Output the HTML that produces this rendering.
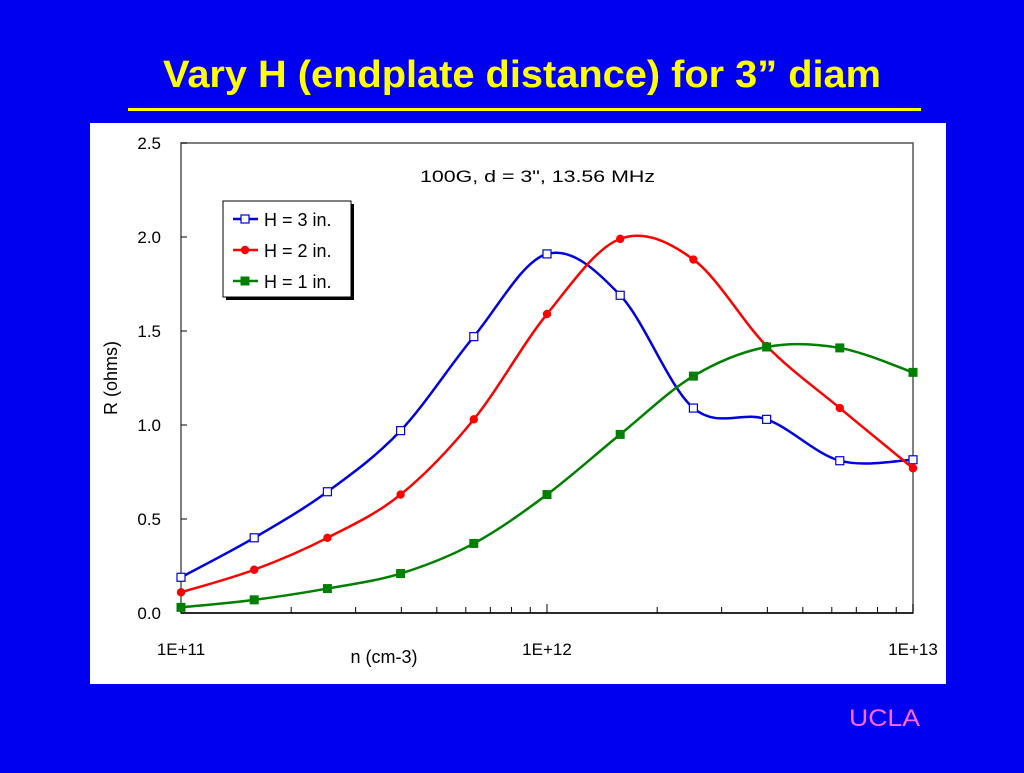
<!DOCTYPE html>
<html><head><meta charset="utf-8"><style>
body{margin:0;width:1024px;height:768px;background:#0000f0;overflow:hidden;font-family:"Liberation Sans",sans-serif}
</style></head><body>
<svg width="1024" height="768">
<rect width="1024" height="768" fill="#0000f0"/>
<text x="163" y="87" textLength="718" lengthAdjust="spacingAndGlyphs" font-size="38" font-weight="bold" fill="#ffff00" style="font-family:'Liberation Sans',sans-serif">Vary H (endplate distance) for 3” diam</text>
<rect x="128" y="108" width="793" height="3" fill="#ffff00"/>
<text x="849" y="726" textLength="71" lengthAdjust="spacingAndGlyphs" font-size="24" fill="#ff66ff" style="font-family:'Liberation Sans',sans-serif">UCLA</text>
<rect x="90" y="123" width="856" height="561" fill="#fff"/>
<g id="chart" font-family="Liberation Sans, sans-serif"></g>
</svg>
<script>
const xExp=[11,11.2,11.4,11.6,11.8,12,12.2,12.4,12.6,12.8,13];
const h3=[0.19,0.40,0.645,0.97,1.47,1.91,1.69,1.09,1.03,0.81,0.815];
const h2=[0.11,0.23,0.40,0.63,1.03,1.59,1.99,1.88,1.42,1.09,0.77];
const h1=[0.03,0.07,0.13,0.21,0.37,0.63,0.95,1.26,1.415,1.41,1.28];
const yTicks=[0,0.5,1,1.5,2,2.5];
const yLabels=["0.0","0.5","1.0","1.5","2.0","2.5"];
const xMajor=[11,12,13];
const xLabels=["1E+11","1E+12","1E+13"];
const NS="http://www.w3.org/2000/svg";
const g=document.getElementById('chart');
const X0=181,X1=913,Y0=613,Y1=143;
const sx=e=>X0+(e-11)/2*(X1-X0);
const sy=v=>Y0-v/2.5*(Y0-Y1);
function mk(t,a,p){const el=document.createElementNS(NS,t);for(const k in a)el.setAttribute(k,a[k]);(p||g).appendChild(el);return el;}
let el=mk('rect',{x:X0,y:Y1,width:X1-X0,height:Y0-Y1,fill:'none',stroke:'#555','stroke-width':1.5});


yTicks.forEach((v,i)=>{
 mk('line',{x1:X0,x2:X0+6,y1:sy(v),y2:sy(v),stroke:'#000'});
 const t=mk('text',{x:X0-20,y:sy(v)+6,'text-anchor':'end','font-size':17});
 t.textContent=yLabels[i];
 
 
});
for(let d=11;d<13;d++)for(let m=1;m<=10;m++){
 const e=d+Math.log10(m);const x=sx(e);
 mk('line',{x1:x,x2:x,y1:Y0,y2:Y0-(m==1||m==10?9:6),stroke:'#000'});
}
mk('line',{x1:X0,x2:X1,y1:Y0,y2:Y0,stroke:'#000','stroke-width':1.5});
xMajor.forEach((e,i)=>{
 const t=mk('text',{x:sx(e),y:655,'text-anchor':'middle','font-size':17});
 t.textContent=xLabels[i];
 
 
});
let t=mk('text',{x:384,y:663,'text-anchor':'middle','font-size':18});t.textContent='n (cm-3)';


t=mk('text',{x:0,y:0,'text-anchor':'middle','font-size':18,transform:'translate(117,378) rotate(-90)'});t.textContent='R (ohms)';


t=mk('text',{x:420,y:182,'font-size':17,textLength:235,lengthAdjust:'spacingAndGlyphs'});t.textContent='100G, d = 3", 13.56 MHz';


function path(vals){
 const p=vals.map((v,i)=>[sx(xExp[i]),sy(v)]);
 let d='M'+p[0][0]+','+p[0][1];
 for(let i=0;i<p.length-1;i++){
  const a=p[Math.max(0,i-1)],b=p[i],c=p[i+1],e=p[Math.min(p.length-1,i+2)];
  d+=` C${b[0]+(c[0]-a[0])/6},${b[1]+(c[1]-a[1])/6} ${c[0]-(e[0]-b[0])/6},${c[1]-(e[1]-b[1])/6} ${c[0]},${c[1]}`;
 }
 return d;
}
const series=[[h3,'#0000e0','sq-open','series-h3'],[h2,'#ff0000','circle','series-h2'],[h1,'#008000','sq','series-h1']];
function marker(type,col,x,y,par){
 if(type=='circle')return mk('circle',{cx:x,cy:y,r:4.2,fill:col},par);
 if(type=='sq')return mk('rect',{x:x-4.5,y:y-4.5,width:9,height:9,fill:col},par);
 return mk('rect',{x:x-4,y:y-4,width:8,height:8,fill:'#fff',stroke:col,'stroke-width':1.2},par);
}
series.forEach(([vals,col,type,name])=>{
 const sg=mk('g',{});
 
 
 mk('path',{d:path(vals),fill:'none',stroke:col,'stroke-width':2.5},sg);
 vals.forEach((v,i)=>{const m=marker(type,col,sx(xExp[i]),sy(v),sg);
  
  });
});
const lg=mk('g',{});


mk('rect',{x:226,y:204,width:128,height:96,fill:'#000'},lg);
mk('rect',{x:223,y:201,width:128,height:96,fill:'#fff',stroke:'#000'},lg);
const names=['H = 3 in.','H = 2 in.','H = 1 in.'];
series.forEach(([vals,col,type],i)=>{
 const y=219+i*31;
 mk('line',{x1:233,x2:258,y1:y,y2:y,stroke:col,'stroke-width':2.5},lg);
 marker(type,col,245,y,lg);
 const tt=mk('text',{x:264,y:y+7,'font-size':18},lg);tt.textContent=names[i];
 
 
});
</script>
</body></html>
